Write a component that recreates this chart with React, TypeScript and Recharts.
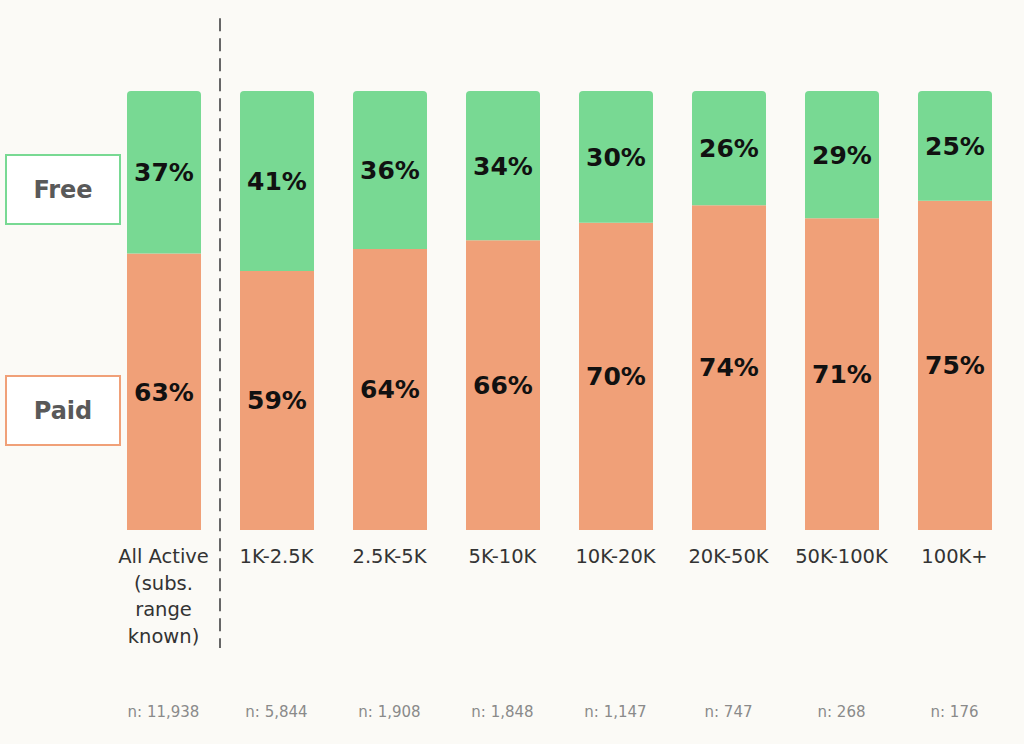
import { BarChart, Bar, XAxis, YAxis, LabelList, ReferenceLine } from "recharts";

const categories = [
  "All Active\n(subs.\nrange\nknown)",
  "1K-2.5K",
  "2.5K-5K",
  "5K-10K",
  "10K-20K",
  "20K-50K",
  "50K-100K",
  "100K+",
];
const freeShare = [37, 41, 36, 34, 30, 26, 29, 25];
const paidShare = [63, 59, 64, 66, 70, 74, 71, 75];
const sampleSizes = [11938, 5844, 1908, 1848, 1147, 747, 268, 176];

const FONT = "'DejaVu Sans', sans-serif";
const GREEN = "#78d993";
const ORANGE = "#f0a078";

const data = categories.map((name, i) => ({
  name,
  free: freeShare[i],
  paid: paidShare[i],
  n: sampleSizes[i],
}));

function CategoryTick(props: any) {
  const { x, y, payload } = props;
  const lines = String(payload.value).split("\n");
  const n = sampleSizes[payload.index];
  return (
    <g>
      <text x={x} y={y} textAnchor="middle" fontFamily={FONT} fontSize={19.5} fill="#333">
        {lines.map((line, i) => (
          <tspan key={i} x={x} dy={i === 0 ? 25 : 26.5}>
            {line}
          </tspan>
        ))}
      </text>
      <text x={x} y={y + 179} textAnchor="middle" fontFamily={FONT} fontSize={15} fill="#8a8a8a">
        {`n: ${n.toLocaleString("en-US")}`}
      </text>
    </g>
  );
}

const legendItems = [
  { label: "Free", color: GREEN, top: 154 },
  { label: "Paid", color: ORANGE, top: 375 },
];

const pct = (v: any) => `${v}%`;

export default function App() {
  return (
    <div
      style={{
        position: "absolute",
        left: 0,
        top: 0,
        width: 1024,
        height: 744,
        background: "#fbfaf6",
      }}
    >
      {legendItems.map((item) => (
        <div
          key={item.label}
          style={{
            position: "absolute",
            left: 5,
            top: item.top,
            width: 116,
            height: 71,
            boxSizing: "border-box",
            border: `2px solid ${item.color}`,
            background: "#ffffff",
            display: "flex",
            alignItems: "center",
            justifyContent: "center",
            fontFamily: FONT,
            fontWeight: "bold",
            fontSize: 24,
            color: "#595959",
          }}
        >
          {item.label}
        </div>
      ))}
      <BarChart
        width={1024}
        height={744}
        data={data}
        margin={{ top: 91, right: 13, bottom: 14, left: 107 }}
        barCategoryGap={0}
      >
        <XAxis
          dataKey="name"
          axisLine={false}
          tickLine={false}
          interval={0}
          height={200}
          tick={<CategoryTick />}
        />
        <YAxis hide domain={[0, 100]} />
        <Bar dataKey="paid" stackId="a" fill={ORANGE} barSize={74} isAnimationActive={false}>
          <LabelList
            dataKey="paid"
            position="center"
            formatter={pct}
            fill="#111"
            fontSize={25}
            fontWeight="bold"
            fontFamily={FONT}
          />
        </Bar>
        <Bar
          dataKey="free"
          stackId="a"
          fill={GREEN}
          barSize={74}
          radius={[4, 4, 0, 0]}
          isAnimationActive={false}
        >
          <LabelList
            dataKey="free"
            position="center"
            formatter={pct}
            fill="#111"
            fontSize={25}
            fontWeight="bold"
            fontFamily={FONT}
          />
        </Bar>
        <ReferenceLine
          segment={[
            { x: categories[1], y: 116.6 },
            { x: categories[1], y: -26.9 },
          ]}
          position="start"
          ifOverflow="visible"
          stroke="#666"
          strokeWidth={2}
          strokeDasharray="13 7"
        />
      </BarChart>
    </div>
  );
}
